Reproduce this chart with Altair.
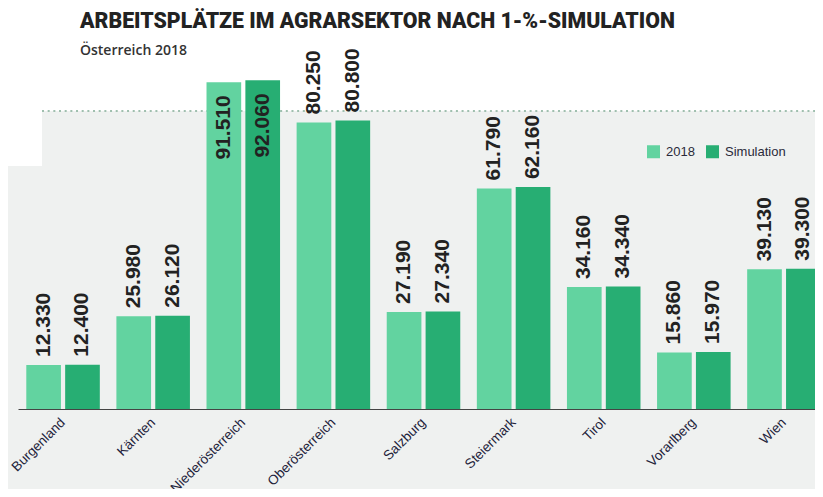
import altair as alt
import pandas as pd

regions = ["Burgenland", "Kärnten", "Niederösterreich", "Oberösterreich", "Salzburg",
           "Steiermark", "Tirol", "Vorarlberg", "Wien"]
jobs_2018 = [12330, 25980, 91510, 80250, 27190, 61790, 34160, 15860, 39130]
jobs_sim = [12400, 26120, 92060, 80800, 27340, 62160, 34340, 15970, 39300]
series = ["2018", "Simulation"]
colors = ["#62d3a0", "#27ae73"]

title_text = "ARBEITSPLÄTZE IM AGRARSEKTOR NACH 1-%-SIMULATION"
subtitle_text = "Österreich 2018"

rows = []
for r, a, b in zip(regions, jobs_2018, jobs_sim):
    rows.append({"region": r, "series": series[0], "jobs": a})
    rows.append({"region": r, "series": series[1], "jobs": b})
df = pd.DataFrame(rows)

W, H = 811, 357

x = alt.X("region:N", sort=regions,
          scale=alt.Scale(paddingInner=0.184, paddingOuter=0.092),
          axis=alt.Axis(title=None, labelAngle=-45, labelFont="Liberation Sans",
                        labelFontSize=13.5, labelColor="#22223a", ticks=False,
                        labelAlign="right", labelBaseline="middle",
                        domainColor="#444444", domainWidth=1, labelPadding=11))
xo = alt.XOffset("series:N", sort=series,
                 scale=alt.Scale(paddingInner=0.108, paddingOuter=0))
y = alt.Y("jobs:Q", scale=alt.Scale(domain=[0, 100000]), axis=None)
color = alt.Color("series:N", sort=series,
                  scale=alt.Scale(domain=series, range=colors),
                  legend=alt.Legend(title=None, orient="none", legendX=629, legendY=93,
                                    direction="horizontal", symbolType="square",
                                    symbolSize=169, symbolStrokeWidth=0, symbolOpacity=1,
                                    labelFont="Liberation Sans", labelFontSize=13,
                                    labelColor="#2a2a3a", labelOffset=6,
                                    columnPadding=11, padding=0))

dummy = alt.Data(values=[{}])

white1 = alt.Chart(dummy).mark_rect(color="white").encode(
    x=alt.value(-10), x2=alt.value(816), y=alt.value(-44), y2=alt.value(59))
white2 = alt.Chart(dummy).mark_rect(color="white").encode(
    x=alt.value(-10), x2=alt.value(24), y=alt.value(59), y2=alt.value(114))
dotted = alt.Chart(dummy).mark_rule(color="#9fbfae", strokeWidth=2,
                                    strokeDash=[2, 3.67]).encode(
    x=alt.value(24), x2=alt.value(816), y=alt.value(59))

base = alt.Chart(df).transform_calculate(
    label="replace(format(datum.jobs, ','), ',', '.')")

bars = base.mark_bar().encode(x=x, xOffset=xo, y=y, color=color)

txt_style = dict(angle=270, baseline="middle", font="Liberation Sans",
                 fontWeight="bold", fontSize=21, color="#222222")
out_labels = base.transform_filter("datum.jobs <= 85000").mark_text(
    align="left", dx=8, **txt_style).encode(x=x, xOffset=xo, y=y, text="label:N")
in_labels = base.transform_filter("datum.jobs > 85000").mark_text(
    align="right", dx=-13, **txt_style).encode(x=x, xOffset=xo, y=y, text="label:N")

title = alt.Chart(dummy).mark_text(
    text=title_text, align="left", baseline="alphabetic", font="Roboto",
    fontWeight=900, fontSize=21.3, color="#222222").encode(
    x=alt.value(62), y=alt.value(-24))
subtitle = alt.Chart(dummy).mark_text(
    text=subtitle_text, align="left", baseline="alphabetic", font="Open Sans",
    fontWeight=600, fontSize=14, color="#333333").encode(
    x=alt.value(62), y=alt.value(3))

chart = alt.layer(white1, white2, dotted, bars, out_labels, in_labels, title, subtitle).properties(
    width=W, height=H,
    autosize=alt.AutoSizeParams(type="none"),
    padding={"left": 10, "top": 44, "right": -14, "bottom": 80},
    background="#eff1f0",
).configure_view(strokeWidth=0, fill=None)

chart.save("out.html", embed_options={"renderer": "svg", "actions": False})
